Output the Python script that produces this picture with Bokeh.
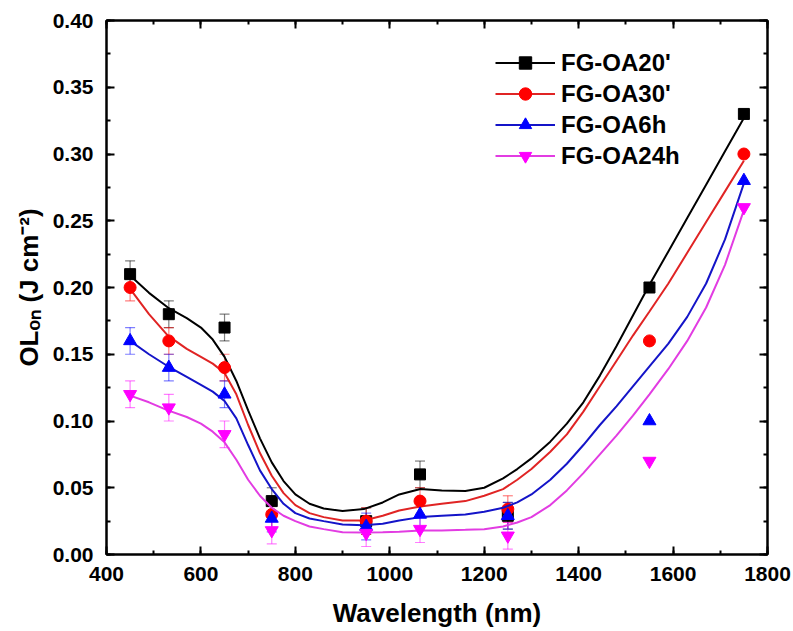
from bokeh.plotting import figure
from bokeh.models import (ColumnDataSource, Whisker, TeeHead, LinearAxis, SingleIntervalTicker,
                          NumeralTickFormatter, Range1d, Legend, LegendItem)
from bokeh.embed import file_html
from bokeh.resources import INLINE

# ---- data ----
wavelength = [450, 532, 650, 750, 950, 1064, 1250, 1550, 1750]
ol_20 = [0.21, 0.18, 0.17, 0.040, 0.025, 0.060, 0.029, 0.20, 0.33]
ol_30 = [0.20, 0.16, 0.14, 0.030, 0.025, 0.040, 0.034, 0.16, 0.30]
ol_6h = [0.16, 0.14, 0.12, 0.027, 0.021, 0.030, 0.029, 0.10, 0.28]
ol_24h = [0.12, 0.11, 0.09, 0.018, 0.016, 0.019, 0.014, 0.07, 0.26]
err = [0.01, 0.01, 0.01, 0.01, 0.01, 0.01, 0.01, 0.0, 0.0]

# fitted curves
fit_x = [450, 490, 530, 570, 600, 625, 650, 675, 700, 725, 750, 775, 800, 830, 860, 900,
         945, 985, 1020, 1065, 1110, 1160, 1200, 1240, 1270, 1300, 1340, 1375, 1410, 1445,
         1480, 1515, 1550, 1590, 1630, 1670, 1710, 1750]
fit_20 = [0.209, 0.196, 0.185, 0.177, 0.170, 0.161, 0.148, 0.130, 0.108, 0.087, 0.069, 0.055,
          0.045, 0.038, 0.0345, 0.0325, 0.034, 0.039, 0.045, 0.049, 0.048, 0.0475, 0.050,
          0.057, 0.064, 0.072, 0.0845, 0.098, 0.114, 0.134, 0.156, 0.179, 0.202, 0.227,
          0.252, 0.277, 0.302, 0.327]
fit_30 = [0.199, 0.180, 0.164, 0.154, 0.148, 0.143, 0.136, 0.120, 0.097, 0.076, 0.059, 0.046,
          0.037, 0.031, 0.028, 0.0255, 0.0255, 0.029, 0.033, 0.036, 0.038, 0.040, 0.044,
          0.049, 0.056, 0.064, 0.077, 0.090, 0.107, 0.126, 0.145, 0.164, 0.182, 0.203,
          0.226, 0.249, 0.272, 0.295]
fit_6h = [0.160, 0.150, 0.141, 0.133, 0.127, 0.122, 0.115, 0.102, 0.082, 0.063, 0.049, 0.038,
          0.031, 0.027, 0.025, 0.0225, 0.022, 0.023, 0.0255, 0.028, 0.029, 0.030, 0.032,
          0.035, 0.039, 0.045, 0.056, 0.068, 0.082, 0.097, 0.111, 0.126, 0.141, 0.158,
          0.178, 0.203, 0.236, 0.278]
fit_24h = [0.119, 0.114, 0.108, 0.103, 0.098, 0.092, 0.084, 0.071, 0.056, 0.044, 0.035, 0.029,
           0.025, 0.021, 0.019, 0.0167, 0.0165, 0.0167, 0.017, 0.018, 0.018, 0.0185, 0.019,
           0.021, 0.024, 0.028, 0.037, 0.048, 0.061, 0.075, 0.089, 0.104, 0.120, 0.139,
           0.160, 0.185, 0.217, 0.258]

names = ["FG-OA20'", "FG-OA30'", "FG-OA6h", "FG-OA24h"]
values = [ol_20, ol_30, ol_6h, ol_24h]
fits = [fit_20, fit_30, fit_6h, fit_24h]
marker_colors = ["#000000", "#ff0000", "#0000ff", "#ff00ff"]
line_colors = ["#000000", "#e02424", "#1414c8", "#e23ce2"]
markers = ["square", "circle", "triangle", "inverted_triangle"]
sizes = [11, 12, 13, 13]

FONT = "Liberation Sans"

p = figure(width=793, height=631, output_backend="svg", toolbar_location=None,
           x_range=Range1d(400, 1800), y_range=Range1d(0, 0.40),
           min_border_left=106, min_border_right=26, min_border_top=20, min_border_bottom=77)
p.grid.visible = False
p.outline_line_color = "black"
p.outline_line_width = 2
p.background_fill_color = "white"

def style_axis(ax, show_labels=True):
    ax.axis_line_width = 2
    ax.axis_line_color = "black"
    ax.major_tick_in = 8
    ax.major_tick_out = 0
    ax.minor_tick_in = 4
    ax.minor_tick_out = 0
    ax.major_tick_line_width = 2
    ax.minor_tick_line_width = 2
    ax.major_label_text_font = FONT
    ax.major_label_text_font_style = "bold"
    ax.major_label_text_font_size = "21px"
    ax.major_label_text_color = "black"
    ax.axis_label_text_font = FONT
    ax.axis_label_text_font_style = "bold"
    ax.axis_label_text_font_size = "26px"
    ax.axis_label_text_color = "black"
    if not show_labels:
        ax.major_label_text_font_size = "0px"
        ax.major_label_text_alpha = 0
        ax.major_label_standoff = 0
        ax.axis_label_standoff = 0

xt = SingleIntervalTicker(interval=200, num_minor_ticks=2)
yt = SingleIntervalTicker(interval=0.05, num_minor_ticks=2)
p.xaxis.ticker = xt
p.yaxis.ticker = yt
p.yaxis.formatter = NumeralTickFormatter(format="0.00")
style_axis(p.xaxis[0])
style_axis(p.yaxis[0])
p.xaxis.major_label_standoff = 12
p.yaxis.major_label_standoff = 13
p.xaxis.axis_label = "Wavelength (nm)"
p.yaxis.axis_label = "OL\u2092\u2099 (J cm\u207b\u00b2)"
p.xaxis.axis_label_standoff = 14
p.yaxis.axis_label_standoff = 6

top = LinearAxis(ticker=SingleIntervalTicker(interval=200, num_minor_ticks=2))
right = LinearAxis(ticker=SingleIntervalTicker(interval=0.05, num_minor_ticks=2))
style_axis(top, False)
style_axis(right, False)
p.add_layout(top, "above")
p.add_layout(right, "right")

items = []
for name, vals, fit, mc, lc, mk, sz in zip(names, values, fits, marker_colors, line_colors, markers, sizes):
    ex = [x for x, e in zip(wavelength, err) if e > 0]
    lo = [v - e for v, e in zip(vals, err) if e > 0]
    hi = [v + e for v, e in zip(vals, err) if e > 0]
    esrc = ColumnDataSource(dict(x=ex, lower=lo, upper=hi))
    w = Whisker(source=esrc, base="x", lower="lower", upper="upper", dimension="height",
                line_color=mc, line_alpha=0.5, line_width=1.2,
                upper_head=TeeHead(size=10, line_color=mc, line_alpha=0.5, line_width=1.2),
                lower_head=TeeHead(size=10, line_color=mc, line_alpha=0.5, line_width=1.2))
    p.add_layout(w)
    lr = p.line(fit_x, fit, line_color=lc, line_width=2)
    sr = p.scatter(wavelength, vals, marker=mk, size=sz, fill_color=mc, line_color=mc)
    items.append(LegendItem(label=name, renderers=[lr, sr]))

legend = Legend(items=items, location=(389, 383))
legend.border_line_color = None
legend.background_fill_alpha = 0
legend.padding = 0
legend.margin = 0
legend.spacing = 0
legend.glyph_width = 60
legend.glyph_height = 31
legend.label_height = 31
legend.label_standoff = 6
legend.label_text_font = FONT
legend.label_text_font_style = "bold"
legend.label_text_font_size = "24px"
legend.label_text_color = "black"
p.add_layout(legend)

open("out.html", "w").write(file_html(p, INLINE))
